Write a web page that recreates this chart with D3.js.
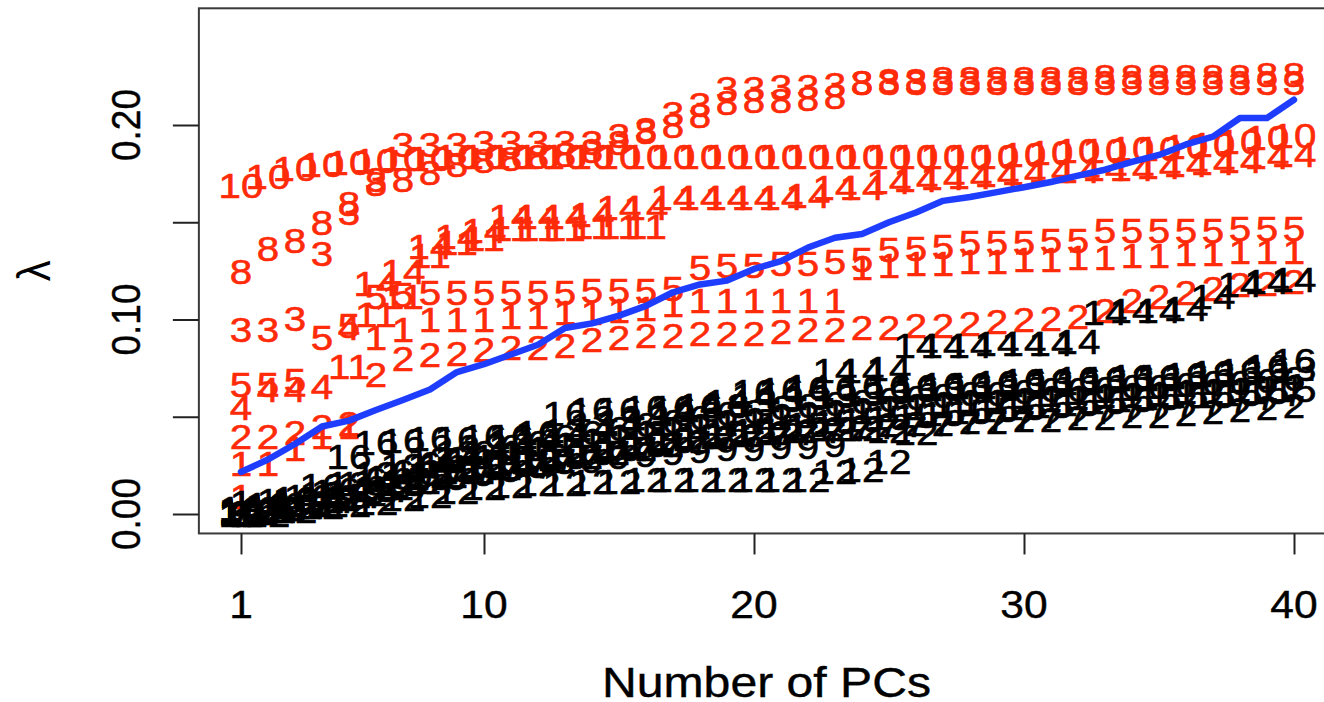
<!DOCTYPE html>
<html>
<head>
<meta charset="utf-8">
<script src="https://cdn.jsdelivr.net/npm/d3@7"></script>
<style>
  body { margin: 0; background: #fff; }
  svg { display: block; }
  text { font-family: "Liberation Sans", Arial, Helvetica, sans-serif; }
</style>
</head>
<body>
<svg id="chart" width="1324" height="702"></svg>
<script>
// Axis ticks and labels
const xTicks = [1, 10, 20, 30, 40];
const yTicks = [0, 0.05, 0.10, 0.15, 0.20];
const yTickLabels = ["0.00", "", "0.10", "", "0.20"];
const xTitle = "Number of PCs";
const yTitle = "λ";

// Threshold curve (blue), one value per number of PCs (1..40)
const threshold = [0.0216,0.028,0.036,0.045,0.048,0.0535,0.0586,0.064,0.073,0.077,
                   0.082,0.087,0.0956,0.098,0.102,0.107,0.114,0.118,0.120,0.126,
                   0.130,0.137,0.142,0.144,0.150,0.155,0.161,0.163,0.1655,0.168,
                   0.1707,0.174,0.177,0.181,0.1846,0.190,0.194,0.2036,0.2036,0.213];

// Highlighted variables (red); index i is PC count i+1, null = not shown
const red10 = [0.169,0.174,0.178,0.180,0.181,0.182,0.183,0.183,0.184,0.184,
               0.184,0.184,0.184,0.184,0.184,0.184,0.184,0.184,0.184,0.184,
               0.184,0.184,0.184,0.184,0.184,0.184,0.184,0.184,0.184,0.185,
               0.186,0.187,0.187,0.188,0.188,0.189,0.190,0.192,0.194,0.195];
const red8 = [0.125,0.137,0.141,0.150,0.160,0.170,0.172,0.176,0.180,0.182,
              0.183,0.184,0.185,0.187,0.191,0.197,0.200,0.205,0.212,0.213,
              0.213,0.214,0.215,0.222,0.223,0.223,0.224,0.224,0.224,0.224,
              0.224,0.224,0.225,0.225,0.225,0.225,0.225,0.225,0.226,0.226];
const red3 = [0.095,0.095,0.101,0.134,0.155,0.172,0.190,0.190,0.190,0.191,
              0.191,0.191,0.191,0.191,0.195,0.198,0.206,0.211,0.219,0.219,
              0.220,0.220,0.221,0.222,0.222,0.222,0.222,0.222,0.222,0.222,
              0.222,0.222,0.222,0.222,0.222,0.222,0.222,0.222,0.222,0.222];
const red4 = [0.055,0.064,0.064,0.066,0.096];
const red14 = [null,null,null,null,null,0.119,0.125,0.138,0.143,0.146,
               0.153,0.153,0.153,0.154,0.158,0.158,0.163,0.163,0.163,0.163,
               0.163,0.164,0.168,0.168,0.171,0.172,0.173,0.174,0.175,0.176,
               0.177,0.177,0.178,0.178,0.179,0.180,0.181,0.182,0.184,0.185];
const red11 = [null,null,null,null,0.076,0.103,0.112,0.133,0.140,0.142,
               0.147,0.147,0.147,0.148,0.148,0.148];
const red1 = [0.026,0.026,0.034,0.040,0.045,0.091,0.095,0.100,0.100,0.100,
              0.102,0.102,0.104,0.104,0.105,0.106,0.108,0.110,0.110,0.110,
              0.110,0.110,0.110,0.127,0.128,0.129,0.129,0.130,0.130,0.131,
              0.131,0.132,0.132,0.133,0.133,0.134,0.134,0.135,0.135,0.135];
const red5 = [0.067,0.067,0.069,0.091,0.097,0.112,0.113,0.114,0.114,0.114,
              0.114,0.114,0.114,0.115,0.115,0.115,0.116,0.127,0.128,0.128,
              0.129,0.129,0.130,0.131,0.136,0.137,0.138,0.140,0.140,0.140,
              0.141,0.141,0.146,0.146,0.146,0.146,0.146,0.147,0.147,0.147];
const red2 = [0.040,0.040,0.042,0.045,0.047,0.072,0.080,0.082,0.083,0.085,
              0.086,0.086,0.087,0.090,0.091,0.092,0.092,0.093,0.093,0.093,
              0.094,0.095,0.095,0.096,0.096,0.097,0.097,0.098,0.099,0.100,
              0.101,0.102,0.105,0.110,0.112,0.114,0.116,0.118,0.119,0.120];
const red1low = [0.009];

// Remaining variables (black)
const blk16 = [0.003,0.005,0.008,0.015,0.030,0.037,0.038,0.039,0.039,0.040,
               0.040,0.042,0.052,0.054,0.054,0.055,0.055,0.056,0.056,0.063,
               0.064,0.065,0.065,0.066,0.066,0.066,0.067,0.067,0.068,0.069,
               0.069,0.070,0.070,0.071,0.071,0.072,0.073,0.074,0.076,0.079];
const blk14 = [0.002,0.003,0.005,0.008,0.012,0.017,0.021,0.025,0.029,0.032,
               0.035,0.038,0.041,0.044,0.047,0.050,0.053,0.056,0.058,0.061,
               0.063,0.066,0.074,0.074,0.075,0.087,0.087,0.087,0.088,0.088,
               0.088,0.089,0.104,0.105,0.105,0.106,0.112,0.118,0.120,0.121];
const blk13 = [0.002,0.004,0.007,0.011,0.016,0.021,0.025,0.029,0.032,0.035,
               0.038,0.040,0.043,0.046,0.048,0.050,0.052,0.054,0.056,0.057,
               0.059,0.060,0.061,0.062,0.063,0.064,0.065,0.066,0.066,0.067,
               0.068,0.068,0.069,0.070,0.070,0.071,0.072,0.073,0.074,0.075];
const blk6 = [0.001,0.003,0.005,0.009,0.013,0.018,0.022,0.026,0.029,0.032,
              0.035,0.037,0.040,0.042,0.044,0.046,0.048,0.050,0.052,0.053,
              0.055,0.056,0.057,0.058,0.059,0.060,0.061,0.062,0.062,0.063,
              0.064,0.064,0.065,0.066,0.066,0.067,0.068,0.068,0.069,0.070];
const blk1 = [0.006,0.007,0.009,0.012,0.016,0.019,0.022,0.025,0.028,0.030,
              0.032,0.034,0.036,0.038,0.040,0.042,0.044,0.045,0.047,0.048,
              0.050,0.051,0.052,0.053,0.054,0.055,0.056,0.057,0.058,0.058,
              0.059,0.060,0.061,0.061,0.062,0.063,0.063,0.064,0.065,0.066];
const blk15 = [0.001,0.002,0.004,0.007,0.010,0.013,0.016,0.019,0.022,0.024,
               0.026,0.028,0.030,0.032,0.034,0.036,0.038,0.040,0.042,0.043,
               0.045,0.046,0.048,0.049,0.050,0.051,0.052,0.053,0.054,0.055,
               0.056,0.057,0.058,0.059,0.060,0.061,0.061,0.062,0.063,0.064];
const blk2 = [0.000,0.001,0.003,0.005,0.008,0.011,0.014,0.017,0.020,0.022,
              0.024,0.026,0.028,0.030,0.032,0.034,0.036,0.038,0.040,0.041,
              0.042,0.043,0.044,0.045,0.046,0.047,0.047,0.048,0.048,0.049,
              0.049,0.050,0.050,0.051,0.051,0.052,0.053,0.054,0.055,0.056];
const blk7 = [0.000,0.001,0.002,0.004,0.007,0.010,0.013,0.021,0.022,0.023,
              0.024,0.026,0.028,0.030,0.032,0.034,0.036,0.037,0.039,0.040,
              0.041,0.042,0.043,0.044,0.045,0.046,0.047,0.048,0.049,0.050,
              0.051,0.052,0.053,0.054,0.055,0.056,0.057,0.058,0.060,0.062];
const blk12a = [0.001,0.002,0.004,0.007,0.010,0.014,0.017,0.020,0.023,0.025,
                0.027,0.029,0.031,0.033,0.035,0.037,0.039,0.040,0.041,0.042,
                0.043,0.044,0.044,0.044,0.043,0.042];
const blk9 = [0.001,0.002,0.003,0.006,0.009,0.012,0.015,0.017,0.019,0.021,
              0.023,0.025,0.027,0.028,0.030,0.031,0.032,0.033,0.034,0.034,
              0.035,0.035,0.036];
const blk12b = [0.000,0.000,0.002,0.004,0.005,0.006,0.008,0.010,0.012,0.014,
                0.015,0.016,0.016,0.017,0.017,0.018,0.018,0.018,0.018,0.018,
                0.018,0.018,0.022,0.023,0.027];

const redSets = [["10", red10], ["8", red8], ["3", red3], ["4", red4], ["14", red14],
                 ["11", red11], ["1", red1], ["5", red5], ["2", red2], ["1", red1low]];
const blackSets = [["12", blk12b], ["9", blk9], ["12", blk12a], ["7", blk7], ["2", blk2],
                   ["15", blk15], ["1", blk1], ["6", blk6], ["13", blk13],
                   ["16", blk16], ["14", blk14]];

// Layout
const svg = d3.select("#chart");
const W = 1324, H = 702;
const xlim = [1, 40], ylim = [0, 0.25];
const x = d3.scaleLinear().domain([1, 40]).range([241, 1294]);
const y = d3.scaleLinear().domain([0, 0.2]).range([514, 125]);
const padX = 0.04 * (xlim[1] - xlim[0]);
const padY = 0.04 * (ylim[1] - ylim[0]);
const box = {
  left: x(xlim[0] - padX), right: x(xlim[1] + padX),
  top: y(ylim[1] + padY), bottom: y(ylim[0] - padY)
};
const stretch = 1.12;   // glyphs are drawn slightly wide

svg.append("rect").attr("width", W).attr("height", H).attr("fill", "#fff");

// Text labels for each variable along the number of PCs
function drawSet(label, values, color) {
  const pts = values.map((v, i) => ({ k: i + 1, v })).filter(d => d.v != null);
  svg.append("g").selectAll("text").data(pts).join("text")
    .attr("transform", d => `translate(${x(d.k)},${y(d.v)}) scale(${stretch},1)`)
    .attr("text-anchor", "middle")
    .attr("dy", "0.36em")
    .attr("font-size", 36)
    .attr("fill", color)
    .attr("stroke", color)
    .attr("stroke-width", 0.6)
    .text(label);
}
redSets.forEach(([lab, vals]) => drawSet(lab, vals, "#ff2a08"));
blackSets.forEach(([lab, vals]) => drawSet(lab, vals, "#000"));

// Threshold line
const line = d3.line().x((d, i) => x(i + 1)).y(d => y(d));
svg.append("path").datum(threshold)
  .attr("d", line)
  .attr("fill", "none")
  .attr("stroke", "#1f3dff")
  .attr("stroke-width", 6.5)
  .attr("stroke-linejoin", "round")
  .attr("stroke-linecap", "round");

// Plot frame
svg.append("rect")
  .attr("x", box.left).attr("y", box.top)
  .attr("width", box.right - box.left).attr("height", box.bottom - box.top)
  .attr("fill", "none").attr("stroke", "#3a3a3a").attr("stroke-width", 2);

// Bottom axis
const gx = svg.append("g").attr("transform", `translate(0,${box.bottom})`)
  .call(d3.axisBottom(x).tickValues(xTicks).tickSize(21).tickFormat(() => ""));
gx.select(".domain").remove();
gx.selectAll(".tick line").attr("stroke", "#222").attr("stroke-width", 2);
svg.append("g").selectAll("text").data(xTicks).join("text")
  .attr("transform", d => `translate(${x(d)},618) scale(${stretch},1)`)
  .attr("text-anchor", "middle")
  .attr("font-size", 38)
  .attr("fill", "#000")
  .attr("stroke", "#000").attr("stroke-width", 0.4)
  .text(d => d);

// Left axis
const gy = svg.append("g").attr("transform", `translate(${box.left},0)`)
  .call(d3.axisLeft(y).tickValues(yTicks).tickSize(26).tickFormat(() => ""));
gy.select(".domain").remove();
gy.selectAll(".tick line").attr("stroke", "#222").attr("stroke-width", 2);
svg.append("g").selectAll("text").data(yTicks.map((t, i) => ({ t, s: yTickLabels[i] })).filter(d => d.s))
  .join("text")
  .attr("transform", d => `translate(140,${y(d.t)}) rotate(-90) scale(1,${stretch})`)
  .attr("text-anchor", "middle")
  .attr("font-size", 37)
  .attr("fill", "#000")
  .attr("stroke", "#000").attr("stroke-width", 0.4)
  .text(d => d.s);

// Axis titles
svg.append("text")
  .attr("transform", `translate(${(box.left + box.right) / 2 - 1},697) scale(${stretch},1)`)
  .attr("text-anchor", "middle")
  .attr("font-size", 43)
  .attr("fill", "#000")
  .attr("stroke", "#000").attr("stroke-width", 0.4)
  .text(xTitle);
svg.append("text")
  .attr("transform", `translate(50,${(box.top + box.bottom) / 2}) rotate(-90) scale(1,${stretch})`)
  .attr("text-anchor", "middle")
  .attr("font-size", 42)
  .attr("fill", "#000")
  .text(yTitle);
</script>
</body>
</html>
